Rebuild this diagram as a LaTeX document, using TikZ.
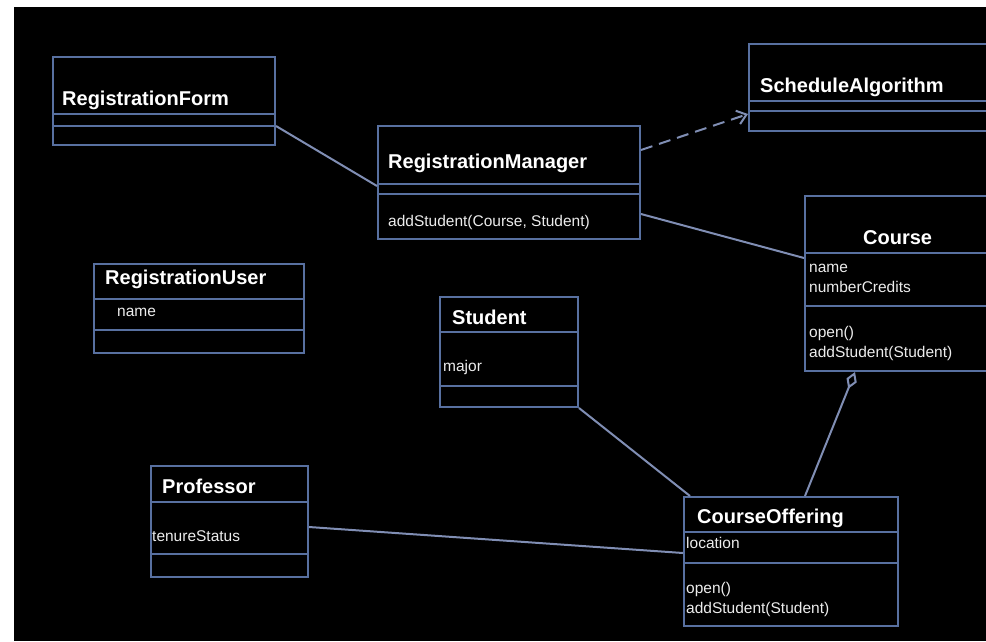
\documentclass[tikz,border=0pt]{standalone}
\usepackage{fontspec}
\setmainfont{Liberation Sans}
\usepackage{tikz}
\usetikzlibrary{arrows.meta}
\definecolor{boxblue}{RGB}{88,112,160}
\definecolor{linkblue}{RGB}{128,142,180}

\begin{document}
\begin{tikzpicture}[x=1pt, y=-1pt,
            classbox/.style={rectangle, draw=boxblue, line width=2pt, fill=black,
                             anchor=north west, inner sep=0pt},
            divider/.style ={draw=boxblue, line width=2pt},
            title/.style   ={anchor=base west, inner sep=0pt, text=white,
                             font=\fontsize{20}{24}\selectfont\bfseries},
            member/.style  ={anchor=base west, inner sep=0pt, text=gray!15,
                             font=\fontsize{15.5}{18}\selectfont},
            link/.style    ={draw=linkblue, line width=2pt},
            depend/.style  ={link, dash pattern=on 12pt off 7pt,
                             -{Straight Barb[length=9pt, width=14pt]}},
            aggr/.style    ={link, -{Diamond[open, length=18pt, width=11pt]}}
        ]
            \useasboundingbox (0,0) rectangle (986,641);
            \fill[white] (0,0) rectangle (986,641);
            \clip (14,7) rectangle (986,641);
            \fill[black] (14,7) rectangle (986,641);

            \node[classbox, minimum width=222pt, minimum height=88pt]  (rform)   at (52,56)   {};
            \node[classbox, minimum width=262pt, minimum height=113pt] (rmgr)    at (377,125) {};
            \node[classbox, minimum width=245pt, minimum height=87pt]  (sched)   at (748,43)  {};
            \node[classbox, minimum width=188pt, minimum height=175pt] (course)  at (804,195) {};
            \node[classbox, minimum width=210pt, minimum height=89pt]  (ruser)   at (93,263)  {};
            \node[classbox, minimum width=138pt, minimum height=110pt] (student) at (439,296) {};
            \node[classbox, minimum width=157pt, minimum height=111pt] (prof)    at (150,465) {};
            \node[classbox, minimum width=214pt, minimum height=129pt] (coffer)  at (683,496) {};

            \foreach \cls/\da/\db in {rform/58/70, rmgr/59/69, sched/58/68, course/58/111,
                                      ruser/36/67, student/36/90, prof/37/89, coffer/36/67} {
                \draw[divider] ([yshift=-\da pt]\cls.north west) -- ([yshift=-\da pt]\cls.north east);
                \draw[divider] ([yshift=-\db pt]\cls.north west) -- ([yshift=-\db pt]\cls.north east);
            }

            \node[title] (rform-t)   at (62,105)  {RegistrationForm};
            \node[title] (rmgr-t)    at (388,168) {RegistrationManager};
            \node[title] (sched-t)   at (760,92)  {ScheduleAlgorithm};
            \node[title] (course-t)  at (863,244) {Course};
            \node[title] (ruser-t)   at (105,284) {RegistrationUser};
            \node[title] (student-t) at (452,324) {Student};
            \node[title] (prof-t)    at (162,493) {Professor};
            \node[title] (coffer-t)  at (697,523) {CourseOffering};

            \node[member] (rmgr-m1)    at (388,226) {addStudent(Course, Student)};
            \node[member] (course-a1)  at (809,272) {name};
            \node[member] (course-a2)  at (809,292) {numberCredits};
            \node[member] (course-m1)  at (809,337) {open()};
            \node[member] (course-m2)  at (809,357) {addStudent(Student)};
            \node[member] (ruser-a1)   at (117,316) {name};
            \node[member] (student-a1) at (443,371) {major};
            \node[member] (prof-a1)    at (152,541) {tenureStatus};
            \node[member] (coffer-a1)  at (686,548) {location};
            \node[member] (coffer-m1)  at (686,593) {open()};
            \node[member] (coffer-m2)  at (686,613) {addStudent(Student)};

            \draw[link]   ([yshift=-70pt]rform.north east) -- ([yshift=-61pt]rmgr.north west);
            \draw[depend] ([yshift=-25pt]rmgr.north east)  -- ([yshift=-71pt]sched.north west);
            \draw[link]   ([yshift=-89pt]rmgr.north east)  -- ([yshift=-63pt]course.north west);
            \draw[link]   (student.south east)             -- ([xshift=7pt]coffer.north west);
            \draw[link]   ([yshift=-62pt]prof.north east)  -- ([yshift=-57pt]coffer.north west);
            \draw[aggr]   ([xshift=122pt]coffer.north west) -- ([xshift=51pt]course.south west);

        \end{tikzpicture}
\end{document}
